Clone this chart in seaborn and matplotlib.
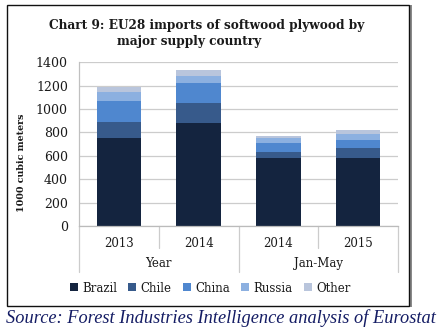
import matplotlib
matplotlib.use("Agg")
import matplotlib.pyplot as plt
import matplotlib.transforms as mtransforms
from matplotlib.lines import Line2D
from matplotlib.patches import Rectangle
import pandas as pd
import seaborn as sns

# EU28 softwood plywood imports, 1000 m3, by supplier
periods = ["2013", "2014", "2014", "2015"]
groups = ["Year", "Year", "Jan-May", "Jan-May"]
countries = ["Brazil", "Chile", "China", "Russia", "Other"]
brazil = [755, 883, 584, 584]
chile = [132, 171, 49, 85]
china = [182, 166, 79, 66]
russia = [74, 63, 38, 52]
other = [48, 51, 22, 31]
yticks = [0, 200, 400, 600, 800, 1000, 1200, 1400]

colors = ["#14243f", "#375a8b", "#4f87cf", "#8cb0e0", "#b9c5dc"]

sns.set_theme(style="white")
plt.rcParams["font.family"] = ["DejaVu Serif"]

W, H = 440, 333
fig = plt.figure(figsize=(W / 100, H / 100), dpi=100)
fig.patch.set_facecolor("white")

ax = fig.add_axes([79 / W, 1 - 226 / H, 319 / W, 163.7 / H])

keys = [f"{g} {p}" for g, p in zip(groups, periods)]
df = pd.DataFrame({"key": keys, "Brazil": brazil, "Chile": chile,
                   "China": china, "Russia": russia, "Other": other})
cum = df[countries].cumsum(axis=1)
cum["key"] = df["key"]

# stacked bars: draw cumulative totals from the top layer down
for name, col in reversed(list(zip(countries, colors))):
    sns.barplot(data=cum, x="key", y=name, order=keys, color=col,
                saturation=1, width=0.56, linewidth=0, ax=ax)

ax.set_ylim(0, 1400)
ax.set_xlim(-0.5, 3.5)
ax.set_yticks(yticks)
ax.set_yticklabels([str(v) for v in yticks], fontsize=9, color="#1a1a1a")
ax.set_xticks(range(len(periods)))
ax.set_xticklabels(periods, fontsize=8.5, color="#1a1a1a")
ax.set_xlabel("")
ax.set_ylabel("")
ax.yaxis.grid(True, color="#cccccc", linewidth=0.9)
ax.set_axisbelow(True)
ax.tick_params(axis="x", length=0, pad=8)
ax.tick_params(axis="y", length=4, width=0.8, color="#bbbbbb", pad=4)
for s in ["top", "right"]:
    ax.spines[s].set_visible(False)
ax.spines["left"].set_color("#c0c0c0")
ax.spines["bottom"].set_color("#bbbbbb")
ax.spines["left"].set_linewidth(0.9)
ax.spines["bottom"].set_linewidth(0.9)

# two-level category axis separators and group labels
trans = mtransforms.blended_transform_factory(ax.transData, ax.transAxes)
for xb, depth in [(-0.5, -0.279), (0.5, -0.134), (1.5, -0.279),
                  (2.5, -0.134), (3.5, -0.279)]:
    ax.plot([xb, xb], [0, depth], transform=trans, clip_on=False,
            color="#cccccc", linewidth=0.9)
for i, g in enumerate(["Year", "Jan-May"]):
    ax.text(0.5 + 2 * i, -0.228, g, transform=trans, ha="center",
            va="center", fontsize=8.5, color="#1a1a1a")

fig.text(21.5 / W, 1 - 163 / H, "1000 cubic meters", rotation=90,
         ha="center", va="center", fontsize=6.8, fontweight="bold",
         color="#1a1a1a")

fig.text(207 / W, 1 - 25 / H, "Chart 9: EU28 imports of softwood plywood by",
         ha="center", va="center", fontsize=8.7, fontweight="bold",
         color="#1a1a1a")
fig.text(189 / W, 1 - 42 / H, "major supply country",
         ha="center", va="center", fontsize=8.7, fontweight="bold",
         color="#1a1a1a")

handles = [Line2D([], [], marker="s", linestyle="none", markersize=5.5,
                  markerfacecolor=c, markeredgewidth=0) for c in colors]
fig.legend(handles, countries, loc="center", ncol=5,
           bbox_to_anchor=(210 / W, 1 - 288 / H), frameon=False,
           fontsize=8.5, handlelength=0.8, handletextpad=0.3,
           columnspacing=0.9, labelcolor="#1a1a1a")

# framed box with a shadow on the right
fig.patches.append(Rectangle((409 / W, 1 - 307 / H), 2.5 / W, 302 / H,
                             transform=fig.transFigure, facecolor="#8a8a8a",
                             edgecolor="none"))
fig.patches.append(Rectangle((7 / W, 1 - 306 / H), 402 / W, 301 / H,
                             transform=fig.transFigure, facecolor="none",
                             edgecolor="#111111", linewidth=1.0))

fig.text(6 / W, 1 - 318 / H,
         "Source: Forest Industries Intelligence analysis of Eurostat",
         ha="left", va="center", fontsize=13.2, style="italic",
         family=["Liberation Serif"], color="#141c64")

fig.savefig("out.png", dpi=100)
